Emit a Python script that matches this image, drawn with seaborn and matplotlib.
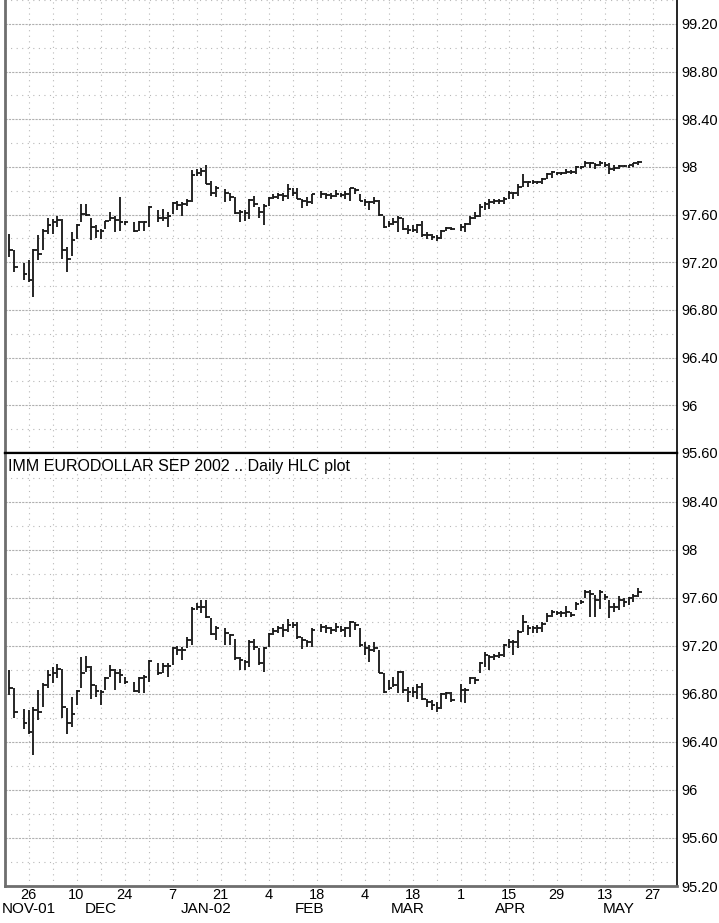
import numpy as np
import pandas as pd
import matplotlib
matplotlib.use("Agg")
import matplotlib.pyplot as plt
import matplotlib.transforms as mtransforms
import seaborn as sns

sns.set_theme(style="white")
plt.rcParams['font.family'] = ['Liberation Sans', 'DejaVu Sans']

# trading days (weekdays without exchange holidays)
start_day = '2001-11-19'
holidays = ['2001-11-22', '2001-12-25', '2002-01-01', '2002-01-21',
            '2002-02-18', '2002-03-29']
dates = pd.bdate_range('2001-11-20', '2002-05-22')
dates = dates[~dates.isin(pd.to_datetime(holidays))]

# upper contract (one row per week)
upper_high = [
    97.44, 97.305, 97.19,
    97.215, 97.315, 97.425, 97.48, 97.575,
    97.565, 97.585, 97.565, 97.325, 97.45,
    97.52, 97.685, 97.685, 97.575, 97.51,
    97.48, 97.55, 97.62, 97.59, 97.745,
    97.55, 97.535, 97.545, 97.55,
    97.675, 97.635, 97.645, 97.625,
    97.705, 97.71, 97.705, 97.73, 97.97,
    97.98, 97.99, 98.015, 97.885, 97.84,
    97.815, 97.785, 97.745, 97.635,
    97.635, 97.73, 97.76, 97.66, 97.69,
    97.745, 97.77, 97.785, 97.785, 97.855,
    97.825, 97.825, 97.73, 97.745, 97.775,
    97.795, 97.785, 97.785, 97.805,
    97.785, 97.795, 97.825, 97.82, 97.77,
    97.73, 97.715, 97.745, 97.72, 97.59,
    97.55, 97.575, 97.59, 97.575, 97.51,
    97.51, 97.525, 97.55, 97.45, 97.44,
    97.425, 97.47, 97.495, 97.495,
    97.52, 97.53, 97.585, 97.62, 97.685,
    97.705, 97.73, 97.73, 97.73, 97.745,
    97.80, 97.79, 97.855, 97.94, 97.885,
    97.89, 97.885, 97.91, 97.945, 97.965,
    97.96, 97.96, 97.98, 97.97, 98.01,
    98.01, 98.05, 98.045, 98.035, 98.05,
    98.045, 98.035, 98.02, 98.02, 98.02,
    98.02, 98.035, 98.05,
]
upper_low = [
    97.245, 97.12, 97.05,
    97.035, 96.91, 97.215, 97.305, 97.44,
    97.44, 97.495, 97.23, 97.12, 97.25,
    97.395, 97.535, 97.59, 97.385, 97.405,
    97.395, 97.48, 97.55, 97.45, 97.465,
    97.51, 97.45, 97.465, 97.465,
    97.50, 97.535, 97.55, 97.50,
    97.605, 97.635, 97.59, 97.675, 97.705,
    97.925, 97.925, 97.855, 97.76, 97.745,
    97.705, 97.715, 97.605, 97.535,
    97.55, 97.565, 97.66, 97.575, 97.515,
    97.675, 97.73, 97.73, 97.715, 97.73,
    97.76, 97.73, 97.655, 97.675, 97.69,
    97.74, 97.73, 97.73, 97.745,
    97.745, 97.73, 97.715, 97.77, 97.715,
    97.675, 97.635, 97.69, 97.59, 97.49,
    97.495, 97.51, 97.45, 97.47, 97.44,
    97.45, 97.445, 97.41, 97.395, 97.385,
    97.375, 97.395, 97.465, 97.47,
    97.46, 97.45, 97.51, 97.565, 97.58,
    97.635, 97.645, 97.69, 97.685, 97.69,
    97.73, 97.73, 97.76, 97.83, 97.83,
    97.855, 97.855, 97.86, 97.895, 97.91,
    97.935, 97.935, 97.94, 97.94, 97.94,
    97.98, 97.995, 97.99, 97.98, 98.01,
    98.00, 97.94, 97.965, 97.98, 97.995,
    97.99, 98.00, 98.02,
]
upper_close = [
    97.305, 97.16, 97.10,
    97.055, 97.305, 97.27, 97.465, 97.515,
    97.535, 97.555, 97.30, 97.23, 97.385,
    97.515, 97.605, 97.60, 97.495, 97.465,
    97.46, 97.545, 97.575, 97.555, 97.535,
    97.535, 97.46, 97.54, 97.54,
    97.665, 97.57, 97.575, 97.59,
    97.695, 97.68, 97.69, 97.71, 97.935,
    97.95, 97.965, 97.86, 97.785, 97.825,
    97.78, 97.745, 97.615, 97.62,
    97.61, 97.72, 97.69, 97.62, 97.675,
    97.735, 97.745, 97.765, 97.76, 97.815,
    97.785, 97.73, 97.71, 97.705, 97.77,
    97.77, 97.765, 97.76, 97.775,
    97.765, 97.775, 97.82, 97.805, 97.715,
    97.705, 97.705, 97.715, 97.595, 97.50,
    97.525, 97.54, 97.575, 97.48, 97.47,
    97.47, 97.515, 97.425, 97.425, 97.415,
    97.405, 97.465, 97.49, 97.48,
    97.50, 97.52, 97.57, 97.59, 97.66,
    97.685, 97.705, 97.715, 97.71, 97.73,
    97.78, 97.78, 97.835, 97.87, 97.87,
    97.875, 97.87, 97.895, 97.94, 97.955,
    97.945, 97.945, 97.955, 97.955, 97.995,
    98.00, 98.035, 98.035, 98.015, 98.035,
    98.02, 97.98, 97.99, 98.01, 98.01,
    98.015, 98.03, 98.04,
]

# IMM Eurodollar Sep 2002
lower_high = [
    97.00, 96.845, 96.67,
    96.665, 96.69, 96.83, 96.89, 97.00,
    97.025, 97.045, 97.01, 96.68, 96.775,
    96.83, 97.11, 97.115, 97.03, 96.87,
    96.83, 96.94, 97.04, 97.005, 97.01,
    96.94, 96.90, 96.94, 96.955,
    97.08, 97.055, 97.06, 97.055,
    97.19, 97.195, 97.19, 97.275, 97.525,
    97.56, 97.58, 97.58, 97.43, 97.365,
    97.345, 97.295, 97.255, 97.11,
    97.085, 97.245, 97.26, 97.18, 97.19,
    97.305, 97.345, 97.365, 97.38, 97.42,
    97.40, 97.40, 97.27, 97.245, 97.345,
    97.38, 97.37, 97.36, 97.39,
    97.365, 97.36, 97.41, 97.40, 97.345,
    97.235, 97.205, 97.235, 97.165, 96.97,
    96.915, 96.94, 96.99, 96.99, 96.86,
    96.86, 96.88, 96.89, 96.76, 96.745,
    96.735, 96.805, 96.815, 96.815,
    96.885, 96.845, 96.94, 96.94, 97.065,
    97.15, 97.12, 97.13, 97.15, 97.215,
    97.255, 97.245, 97.33, 97.455, 97.37,
    97.365, 97.37, 97.40, 97.47, 97.495,
    97.49, 97.49, 97.53, 97.485, 97.565,
    97.58, 97.665, 97.665, 97.62, 97.665,
    97.635, 97.58, 97.555, 97.615, 97.595,
    97.61, 97.63, 97.68,
]
lower_low = [
    96.79, 96.595, 96.51,
    96.47, 96.29, 96.58, 96.69, 96.845,
    96.89, 96.93, 96.595, 96.47, 96.525,
    96.705, 96.845, 96.985, 96.76, 96.775,
    96.705, 96.83, 96.94, 96.83, 96.89,
    96.885, 96.815, 96.805, 96.81,
    96.90, 96.955, 96.97, 96.94,
    97.04, 97.12, 97.085, 97.18, 97.205,
    97.495, 97.47, 97.43, 97.29, 97.245,
    97.205, 97.205, 97.085, 97.00,
    97.00, 97.025, 97.165, 97.04, 96.985,
    97.19, 97.29, 97.305, 97.275, 97.315,
    97.345, 97.26, 97.17, 97.19, 97.19,
    97.315, 97.305, 97.295, 97.315,
    97.315, 97.275, 97.275, 97.33, 97.19,
    97.12, 97.065, 97.15, 96.97, 96.81,
    96.83, 96.86, 96.805, 96.805, 96.735,
    96.775, 96.76, 96.745, 96.69, 96.665,
    96.65, 96.67, 96.76, 96.735,
    96.735, 96.72, 96.885, 96.885, 96.97,
    97.025, 97.00, 97.085, 97.095, 97.11,
    97.18, 97.12, 97.18, 97.315, 97.29,
    97.31, 97.305, 97.315, 97.40, 97.44,
    97.455, 97.44, 97.44, 97.44, 97.495,
    97.545, 97.595, 97.44, 97.44, 97.51,
    97.58, 97.43, 97.485, 97.495, 97.525,
    97.54, 97.565, 97.61,
]
lower_close = [
    96.845, 96.645, 96.555,
    96.485, 96.665, 96.65, 96.87, 96.955,
    96.97, 97.01, 96.69, 96.56, 96.635,
    96.825, 96.97, 97.025, 96.87, 96.825,
    96.815, 96.935, 97.00, 96.97, 96.955,
    96.90, 96.825, 96.93, 96.94,
    97.07, 96.97, 97.03, 97.03,
    97.18, 97.165, 97.165, 97.245, 97.51,
    97.525, 97.525, 97.44, 97.295, 97.345,
    97.305, 97.29, 97.095, 97.08,
    97.065, 97.235, 97.19, 97.055, 97.18,
    97.295, 97.325, 97.345, 97.33, 97.37,
    97.37, 97.275, 97.245, 97.235, 97.335,
    97.36, 97.345, 97.335, 97.355,
    97.335, 97.345, 97.40, 97.37, 97.205,
    97.18, 97.165, 97.18, 96.975, 96.815,
    96.845, 96.87, 96.985, 96.83, 96.815,
    96.815, 96.855, 96.755, 96.735, 96.705,
    96.68, 96.795, 96.805, 96.745,
    96.83, 96.83, 96.93, 96.915, 97.055,
    97.12, 97.11, 97.115, 97.12, 97.205,
    97.235, 97.235, 97.315, 97.40, 97.345,
    97.345, 97.345, 97.385, 97.445, 97.485,
    97.475, 97.47, 97.485, 97.455, 97.545,
    97.565, 97.65, 97.635, 97.58, 97.65,
    97.61, 97.525, 97.525, 97.58, 97.565,
    97.595, 97.615, 97.65,
]

upper_ticks = [95.60, 96.00, 96.40, 96.80, 97.20, 97.60, 98.00, 98.40, 98.80, 99.20]
lower_ticks = [95.20, 95.60, 96.00, 96.40, 96.80, 97.20, 97.60, 98.00, 98.40]
month_names = ['NOV-01', 'DEC', 'JAN-02', 'FEB', 'MAR', 'APR', 'MAY']
title_text = 'IMM EURODOLLAR SEP 2002 .. Daily HLC plot'


def day_pos(d):
    # weekday count since the first Monday on the axis
    d = pd.DatetimeIndex(np.atleast_1d(pd.to_datetime(d)))
    return np.busday_count(np.datetime64(start_day),
                           d.values.astype('datetime64[D]'))


def label_fmt(v):
    if abs(v - round(v)) < 1e-6:
        return '%d' % round(v)
    return '%.2f' % v


def draw_hlc(ax, x, hi, lo, cl):
    ax.vlines(x, lo, hi, color='#151515', lw=1.3)
    ax.hlines(cl, x, x + 0.75, color='#151515', lw=1.3)


def style_panel(ax, ticks, ylim):
    mondays = pd.date_range('2001-11-26', '2002-05-27', freq='7D')
    ax.set_xlim(0.1, 140.1)
    ax.set_ylim(*ylim)
    ax.set_xticks(day_pos(mondays))
    ax.set_xticklabels([])
    ax.set_yticks(ticks)
    ax.set_yticks([t + 0.2 for t in ticks], minor=True)
    ax.set_yticklabels([label_fmt(t) for t in ticks])
    ax.yaxis.tick_right()
    ax.tick_params(axis='both', which='both', length=0)
    ax.tick_params(axis='y', labelsize=10.5, pad=3, colors='black')
    ax.grid(axis='x', which='major', ls=(0, (1, 4)), color='#b8b8b8', lw=0.8)
    ax.grid(axis='y', which='major', ls=(0, (2, 1)), color='#b0b0b0', lw=0.8)
    ax.grid(axis='y', which='minor', ls=(0, (1, 4)), color='#b8b8b8', lw=0.8)
    ax.set_axisbelow(True)
    ax.spines['left'].set_color('#6e6e6e')
    ax.spines['left'].set_linewidth(2)
    ax.spines['right'].set_color('black')
    ax.spines['right'].set_linewidth(1.2)


x = day_pos(dates)

fig = plt.figure(figsize=(7.19, 9.23), dpi=100)
ax1 = fig.add_axes([5 / 719, 1 - 453 / 923, 672 / 719, 453 / 923])
ax2 = fig.add_axes([5 / 719, 1 - 886 / 923, 672 / 719, 433 / 923])

style_panel(ax1, upper_ticks, (95.60, 99.383))
draw_hlc(ax1, x, upper_high, upper_low, upper_close)
ax1.spines['top'].set_visible(False)
ax1.spines['bottom'].set_color('black')
ax1.spines['bottom'].set_linewidth(1.6)

style_panel(ax2, lower_ticks, (95.20, 98.806))
draw_hlc(ax2, x, lower_high, lower_low, lower_close)
ax2.spines['top'].set_color('black')
ax2.spines['top'].set_linewidth(1.6)
ax2.spines['bottom'].set_color('#6e6e6e')
ax2.spines['bottom'].set_linewidth(2)

ax2.text(0.004, 0.968, title_text, transform=ax2.transAxes,
         fontsize=11.5, ha='left', va='center', color='black')

# day numbers every second Monday, month names centred on each month
trans = mtransforms.blended_transform_factory(ax2.transData, ax2.transAxes)
label_days = pd.date_range('2001-11-26', '2002-05-27', freq='14D')
for d, p in zip(label_days, day_pos(label_days)):
    ax2.text(p, -0.0215, str(d.day), transform=trans, fontsize=10.5,
             ha='center', va='center', color='black')

month_start = pd.date_range('2001-11-01', '2002-05-01', freq='MS')
for name, m0 in zip(month_names, month_start):
    m1 = m0 + pd.offsets.MonthEnd(0)
    first = max(m0, dates[0])
    mid = (day_pos(first)[0] + day_pos(m1 + pd.Timedelta(days=1))[0] - 1) / 2
    ax2.text(mid, -0.054, name, transform=trans, fontsize=11,
             ha='center', va='center', color='black')

fig.savefig('out.png', dpi=100)
